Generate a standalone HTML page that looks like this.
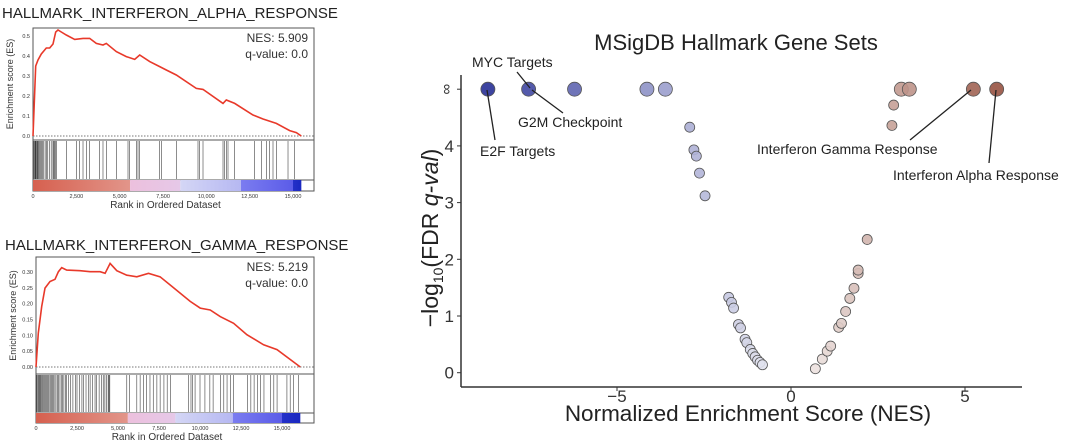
<!DOCTYPE html>
<html><head><meta charset="utf-8"><style>
html,body{margin:0;padding:0;background:#fff;}
svg{display:block;font-family:"Liberation Sans",sans-serif;}
</style></head><body>
<svg id="s" width="1080" height="448" viewBox="0 0 1080 448"></svg>
<script>
// ---------- data ----------
const topCurveRank=[0,154,288,481,770,962,1154,1308,1442,1635,1923,2404,2885,3269,3654,4038,4231,4808,5385,5866,6154,6731,7308,7692,8269,9423,9808,10962,11154,11635,12692,13270,14038,14808,15192,15481];
const topCurveES=[0,0.35,0.38,0.41,0.44,0.44,0.46,0.52,0.53,0.52,0.505,0.483,0.488,0.488,0.463,0.455,0.463,0.422,0.397,0.383,0.405,0.372,0.347,0.33,0.305,0.238,0.233,0.163,0.18,0.163,0.105,0.085,0.063,0.027,0.017,0];
const topHits=[50,100,130,160,200,240,280,330,380,430,500,560,620,700,780,850,950,1050,1150,1200,1250,1300,1350,1923,2500,2692,2885,3077,3269,3846,4038,4231,4808,5481,5577,5962,6058,6154,7308,7404,8269,9519,9615,9808,10962,11058,11154,11250,11635,12788,13173,13462,13654,13846,14038,14712,15096];
const botCurveRank=[0,142,346,550,855,1160,1363,1567,1872,2686,3297,3907,4213,4518,4925,5535,6146,6858,7570,8181,9402,10012,10623,11233,12047,12861,13879,14693,16117];
const botCurveES=[0,0.107,0.191,0.249,0.27,0.277,0.301,0.314,0.306,0.304,0.301,0.301,0.296,0.327,0.304,0.29,0.285,0.296,0.285,0.259,0.207,0.186,0.18,0.159,0.138,0.102,0.07,0.055,0];
const botHits=[40,90,140,190,240,290,340,390,440,500,560,620,680,740,800,870,940,1010,1080,1150,1220,1300,1380,1460,1540,1620,1700,1790,1870,1970,2100,2250,2400,2500,2650,2800,2900,3050,3200,3300,3450,3600,3700,3850,4000,4100,4200,4300,4400,4450,4500,5535,5700,6146,6350,6550,6750,6950,7150,7370,7570,7800,8000,8200,9300,9450,9550,9700,10000,10300,10600,10800,11250,11450,11650,11850,12050,12900,13100,13300,13500,13700,13900,14300,14500,14700,15300,15500,15700,16000];
const esTicksTop=[0,0.1,0.2,0.3,0.4,0.5];
const esTicksBot=[0,0.05,0.10,0.15,0.20,0.25,0.30];
const rankTicks=[0,2500,5000,7500,10000,12500,15000];
const rankTickLabels=["0","2,500","5,000","7,500","10,000","12,500","15,000"];
const volNES=[-8.71,-7.54,-6.22,-4.14,-3.61,3.17,3.40,5.24,5.91,-2.91,-2.79,-2.72,-2.63,-2.47,-1.79,-1.71,-1.65,-1.51,-1.45,-1.32,-1.27,-1.17,-1.10,-1.03,-0.96,-0.89,-0.82,0.70,0.90,1.04,1.14,1.37,1.45,1.57,1.69,1.81,1.93,1.93,2.19,2.90,2.95];
const volQ=[Infinity,Infinity,Infinity,Infinity,Infinity,Infinity,Infinity,Infinity,Infinity,4.33,3.93,3.82,3.52,3.12,1.33,1.24,1.14,0.85,0.79,0.59,0.53,0.41,0.34,0.28,0.22,0.18,0.14,0.07,0.24,0.38,0.47,0.80,0.87,1.08,1.31,1.49,1.75,1.81,2.35,4.36,4.72];
const volXTicks=[-5,0,5];
const volYTicks=[0,1,2,3,4];

// ---------- helpers ----------
const S=document.getElementById('s');
const NS='http://www.w3.org/2000/svg';
function mk(tag,attrs,parent){const e=document.createElementNS(NS,tag);for(const k in attrs)e.setAttribute(k,attrs[k]);(parent||S).appendChild(e);return e;}
function txt(str,attrs,parent){const e=mk('text',attrs,parent);e.textContent=str;return e;}

function gsea(o){
  const g=mk('g',{});
  
  
  const xs=r=>o.x0+(r/15000)*(o.x15-o.x0);
  const ys=v=>o.y0-(v/o.yRefV)*(o.y0-o.yRef);
  let t=txt(o.title,{x:o.boxL-31,y:o.titleY,'font-size':15,fill:'#222'},g);
  
  let b=mk('rect',{x:o.boxL,y:o.boxT,width:o.boxR-o.boxL,height:o.barB-o.boxT,fill:'none',stroke:'#555','stroke-width':1},g);
  
  mk('line',{x1:o.boxL,x2:o.boxR,y1:o.esB,y2:o.esB,stroke:'#555'},g);
  mk('line',{x1:o.boxL,x2:o.boxR,y1:o.hitB,y2:o.hitB,stroke:'#555'},g);
  let z=mk('line',{x1:o.boxL,x2:o.boxR,y1:ys(0),y2:ys(0),stroke:'#777','stroke-dasharray':'1.5,1.5'},g);
  
  o.esTicks.forEach(v=>{
    let l=txt(o.esFmt(v),{x:o.boxL-3,y:ys(v)+2,'font-size':5.5,'text-anchor':'end',fill:'#333'},g);
    
  });
  rankTicks.forEach((r,i)=>{
    let l=txt(rankTickLabels[i],{x:xs(r),y:o.barB+7,'font-size':5.5,'text-anchor':'middle',fill:'#333'},g);
    
  });
  let yl=txt('Enrichment score (ES)',{x:0,y:0,'font-size':9,'text-anchor':'middle',fill:'#333',transform:`translate(${o.boxL-20},${(o.boxT+o.esB)/2}) rotate(-90)`},g);
  
  let xl=txt('Rank in Ordered Dataset',{x:(o.boxL+o.boxR)/2-8,y:o.barB+17,'font-size':10,'text-anchor':'middle',fill:'#333'},g);
  
  let n1=txt(o.nes,{x:o.boxR-6,y:o.boxT+14,'font-size':12,'text-anchor':'end',fill:'#333'},g);
  
  let n2=txt('q-value: 0.0',{x:o.boxR-6,y:o.boxT+30,'font-size':12,'text-anchor':'end',fill:'#333'},g);
  
  o.hits.forEach(r=>{
    let h=mk('line',{x1:xs(r),x2:xs(r),y1:o.esB+1,y2:o.hitB-1,stroke:'#000','stroke-width':0.6,'stroke-opacity':0.75},g);
    
  });
  const segs=[[0,5600,'#d6604f','#e2958a'],[5600,8500,'#ecc0dd','#e6c8e8'],[8500,12000,'#d4d6f5','#b6b8f2'],[12000,15000,'#7b7cf0','#5b5ce8'],[15000,o.endRank,'#2430c8','#1a28c0']];
  segs.forEach((s,i)=>{
    const id='gr'+o.name+i;
    const gr=mk('linearGradient',{id:id,x1:0,x2:1,y1:0,y2:0},g);
    mk('stop',{offset:0,'stop-color':s[2]},gr);mk('stop',{offset:1,'stop-color':s[3]},gr);
    let r=mk('rect',{x:xs(s[0]),y:o.hitB,width:xs(s[1])-xs(s[0]),height:o.barB-o.hitB,fill:`url(#${id})`},g);
    
  });
  const d=o.rank.map((r,i)=>(i?'L':'M')+xs(r).toFixed(1)+','+ys(o.es[i]).toFixed(1)).join('');
  let c=mk('path',{d:d,fill:'none',stroke:'#e8392a','stroke-width':1.6},g);
  
}
gsea({name:'gsea-interferon-alpha',title:'HALLMARK_INTERFERON_ALPHA_RESPONSE',titleY:18,boxL:33,boxR:314,boxT:28,esB:140,hitB:180,barB:191,x0:33,x15:293,y0:136,yRef:36,yRefV:0.5,esTicks:esTicksTop,esFmt:v=>v.toFixed(1),hits:topHits,rank:topCurveRank,es:topCurveES,nes:'NES: 5.909',endRank:15481});
gsea({name:'gsea-interferon-gamma',title:'HALLMARK_INTERFERON_GAMMA_RESPONSE',titleY:250,boxL:36,boxR:314,boxT:257,esB:374,hitB:413,barB:423,x0:36,x15:282,y0:367,yRef:272,yRefV:0.3,esTicks:esTicksBot,esFmt:v=>v.toFixed(2),hits:botHits,rank:botCurveRank,es:botCurveES,nes:'NES: 5.219',endRank:16117});

// ---------- volcano ----------
const V=mk('g',{});

const vx=n=>791+n*34.8;
const vy=q=>372.7-(isFinite(q)?q:5)*56.7;
let tt=txt('MSigDB Hallmark Gene Sets',{x:736,y:50,'font-size':22,'text-anchor':'middle',fill:'#222'},V);

let ya=mk('line',{x1:461,x2:461,y1:75,y2:387,stroke:'#333','stroke-width':1.5},V);

let xa=mk('line',{x1:461,x2:1022,y1:387,y2:387,stroke:'#333','stroke-width':1.5},V);

volYTicks.forEach(v=>{
  mk('line',{x1:457,x2:461,y1:vy(v),y2:vy(v),stroke:'#333'},V);
  let l=txt(String(v),{x:454,y:vy(v)+6,'font-size':17,'text-anchor':'end',fill:'#333'},V);
  
});
mk('line',{x1:457,x2:461,y1:vy(Infinity),y2:vy(Infinity),stroke:'#333'},V);
let inf=txt('∞',{x:0,y:0,'font-size':15,'text-anchor':'middle',fill:'#333',transform:`translate(451,${vy(Infinity)}) rotate(-90)`},V);

volXTicks.forEach(v=>{
  mk('line',{x1:vx(v),x2:vx(v),y1:387,y2:391,stroke:'#333'},V);
  let l=txt(v<0?'−'+(-v):String(v),{x:vx(v),y:402,'font-size':17,'text-anchor':'middle',fill:'#333'},V);
  
});
let xt=txt('Normalized Enrichment Score (NES)',{x:748,y:421,'font-size':22.5,'text-anchor':'middle',fill:'#222'},V);

const yt=mk('text',{x:0,y:0,'font-size':23,'text-anchor':'middle',fill:'#222',transform:'translate(438,238) rotate(-90)'},V);

yt.innerHTML='−log<tspan font-size="14" dy="5">10</tspan><tspan dy="-5">(FDR </tspan><tspan font-style="italic">q-val</tspan>)';
const ann=[['MYC Targets',472,67,517,72,530,88],['G2M Checkpoint',518,127,563,113,532,90],['E2F Targets',480,156,495,140,487,90],['Interferon Gamma Response',757,154,910,140,971,90],['Interferon Alpha Response',893,180,989,163,996,90]];
function col(n){
  const t=Math.min(1,Math.abs(n)/(n<0?8.7:6));
  const dark=n<0?[40,48,150]:[150,80,62];
  const c=dark.map(d=>Math.round(250+(d-250)*Math.pow(t,0.9)));
  return `rgb(${c[0]},${c[1]},${c[2]})`;
}
volNES.forEach((n,i)=>{
  const big=!isFinite(volQ[i]);
  const p=mk('circle',{cx:vx(n),cy:vy(volQ[i]),r:big?7:5,fill:col(n),stroke:'#555','stroke-width':0.8,'fill-opacity':0.9},V);
  
  
});
ann.forEach(a=>{
  const l=mk('line',{x1:a[3],y1:a[4],x2:a[5],y2:a[6],stroke:'#222','stroke-width':1.3},V);
  
  const t=txt(a[0],{x:a[1],y:a[2],'font-size':14,fill:'#222'},V);
  
});
</script>
</body></html>
